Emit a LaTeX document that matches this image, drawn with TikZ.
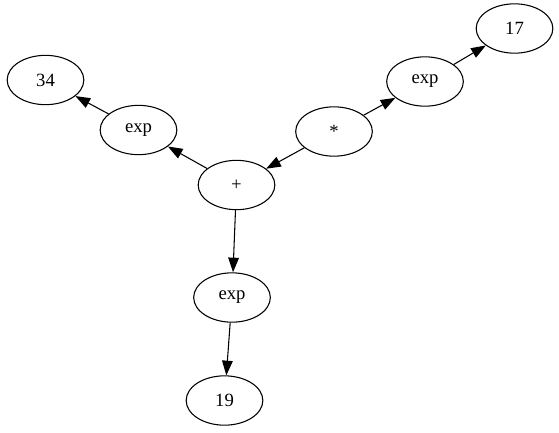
\documentclass[tikz,border=0pt]{standalone}
\usepackage{fontspec}
\setmainfont{Liberation Serif}
\usetikzlibrary{shapes.geometric,arrows.meta}
\begin{document}
\begin{tikzpicture}[x=0.75pt,y=-0.75pt,
  gnode/.style={ellipse,draw,line width=0.8pt,minimum width=57.5pt,minimum height=37pt,inner sep=0pt,font=\fontsize{14}{16}\selectfont},
  gedge/.style={line width=0.8pt,-{Triangle[length=11pt,width=8pt]}}]
\useasboundingbox (0,0) rectangle (559,432);
\node[gnode] (n17) at (514.5,28.5) {17};
\node[gnode] (n34) at (45.5,80) {34};
\node[gnode] (expr) at (425,81.5) {exp};
\node[gnode] (expl) at (138.5,130) {exp};
\node[gnode] (mul) at (334,131.5) {*};
\node[gnode] (plus) at (236.5,185) {+};
\node[gnode] (expb) at (232,297.5) {exp};
\node[gnode] (n19) at (224.5,400.5) {19};
\draw[gedge] (mul) -- (expr);
\draw[gedge] (expr) -- (n17);
\draw[gedge] (mul) -- (plus);
\draw[gedge] (plus) -- (expl);
\draw[gedge] (expl) -- (n34);
\draw[gedge] (plus) -- (expb);
\draw[gedge] (expb) -- (n19);
\end{tikzpicture}
\end{document}
